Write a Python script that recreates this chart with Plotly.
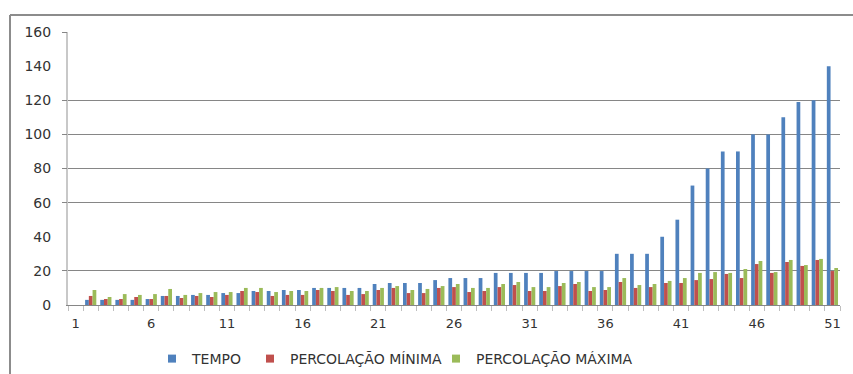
import plotly.graph_objects as go

# Test runs 1..51
CATEGORIES = list(range(1, 52))

TEMPO = [0, 3, 3, 3, 3, 3.5, 5.3, 5.3, 5.9, 5.9,
         7, 7, 8.2, 8.2, 8.8, 8.8, 10, 10, 10, 10,
         12.3, 12.9, 12.9, 12.9, 14.6, 15.8, 15.8, 15.8, 18.8, 18.8,
         18.8, 18.8, 19.9, 19.9, 19.9, 19.9, 30, 30, 30, 40,
         50, 70, 80, 90, 90, 100, 100, 110, 119, 120,
         140]

PERC_MIN = [0, 5.3, 3.5, 3.5, 4.7, 3.5, 5.3, 4.1, 5.3, 4.7,
            5.9, 8.2, 7.6, 5.3, 5.9, 5.9, 8.8, 8.2, 5.9, 6.4,
            8.8, 10, 7, 7, 10, 10.5, 7.6, 8.2, 10.5, 11.7,
            8.2, 8.2, 11.1, 12.3, 8.2, 8.8, 13.5, 10, 10.5, 12.9,
            12.9, 14.6, 15.2, 18.2, 15.8, 24, 18.8, 25.2, 22.9, 26.4,
            19.9]

PERC_MAX = [0, 8.8, 4.7, 6.4, 5.9, 6.4, 9.4, 5.9, 7, 7.6,
            7.6, 10, 10, 7.6, 8.2, 8.2, 10, 10.5, 8.2, 8.2,
            10, 11.1, 8.8, 9.4, 11.1, 12.3, 10, 10, 12.3, 13.5,
            10.5, 10.5, 12.9, 13.5, 10.5, 10.5, 15.8, 11.7, 12.3, 14.1,
            15.8, 18.8, 19.3, 18.8, 21.1, 25.8, 19.3, 26.4, 23.4, 27,
            21.7]

SERIES = [
    ("TEMPO", TEMPO, "#4F81BD"),
    ("PERCOLAÇÃO MÍNIMA", PERC_MIN, "#C0504D"),
    ("PERCOLAÇÃO MÁXIMA", PERC_MAX, "#9BBB59"),
]

Y_TICKS = list(range(0, 161, 20))
GRID_LEVELS = [20, 60, 80, 100, 120, 160]
X_LABELS = list(range(1, 52, 5))

FONT = "DejaVu Sans"
TEXT_COLOR = "#333333"
GRID_COLOR = "#868686"

# one legend box per series, left edges in pixels
LEGEND_NAMES = ["legend", "legend2", "legend3"]
LEGEND_LEFT_PX = [152, 250, 436]

fig = go.Figure()

for name, values, color in SERIES:
    fig.add_trace(go.Bar(
        x=CATEGORIES, y=values, name=name,
        marker=dict(color=color, line=dict(width=0)),
        showlegend=False, legendgroup=name,
    ))

# small square legend keys
for (name, values, color), leg in zip(SERIES, LEGEND_NAMES):
    fig.add_trace(go.Scatter(
        x=[None], y=[None], name=name, mode="markers",
        marker=dict(symbol="square", size=8, color=color),
        legendgroup=name, showlegend=True, legend=leg,
    ))

legend_style = dict(
    orientation="h", xref="container", yref="container",
    xanchor="left", y=1 - 343 / 374, yanchor="top",
    font=dict(family=FONT, size=14, color=TEXT_COLOR),
    bgcolor="rgba(0,0,0,0)", borderwidth=0,
)

fig.update_layout(
    width=853, height=374,
    margin=dict(l=68, r=13, t=32, b=69),
    paper_bgcolor="white", plot_bgcolor="white",
    barmode="group", bargap=0.26, bargroupgap=0,
    font=dict(family=FONT, size=13, color=TEXT_COLOR),
    xaxis=dict(
        range=[0.5, 51.5], tickmode="array", tickvals=X_LABELS,
        ticks="", showgrid=False, zeroline=False,
        showline=True, linecolor=GRID_COLOR, linewidth=1,
        ticklabelstandoff=6,
        minor=dict(tickmode="linear", tick0=0.5, dtick=1,
                   ticks="outside", ticklen=5, tickcolor="#bfbfbf",
                   showgrid=False),
        tickfont=dict(size=13, color=TEXT_COLOR),
    ),
    yaxis=dict(
        range=[0, 160], tickmode="array", tickvals=Y_TICKS,
        showgrid=False, zeroline=False, ticks="",
        showline=True, linecolor="#c8c8c8", linewidth=2,
        ticklabelstandoff=12,
        tickfont=dict(size=14, color=TEXT_COLOR),
    ),
    yaxis2=dict(
        overlaying="y", side="left", range=[0, 160],
        tickmode="array", tickvals=GRID_LEVELS,
        showgrid=True, gridcolor=GRID_COLOR, gridwidth=1,
        ticks="outside", ticklen=5, tickcolor=GRID_COLOR,
        showticklabels=False, zeroline=False, showline=False,
    ),
    shapes=[
        dict(type="line", xref="paper", yref="paper",
             x0=(10 - 68) / 772, x1=(853 - 68) / 772,
             y0=(305 - 15) / 273, y1=(305 - 15) / 273,
             line=dict(color="#8c8c8c", width=2)),
        dict(type="line", xref="paper", yref="paper",
             x0=(10 - 68) / 772, x1=(10 - 68) / 772,
             y0=(305 - 15) / 273, y1=(305 - 380) / 273,
             line=dict(color="#8c8c8c", width=2)),
    ],
)

for leg, left in zip(LEGEND_NAMES, LEGEND_LEFT_PX):
    fig.update_layout({leg: dict(legend_style, x=left / 853)})

# an invisible trace keeps the overlay axis active
fig.add_trace(go.Scatter(x=[None], y=[None], yaxis="y2", showlegend=False,
                         hoverinfo="skip"))

fig.write_html("out.html")
